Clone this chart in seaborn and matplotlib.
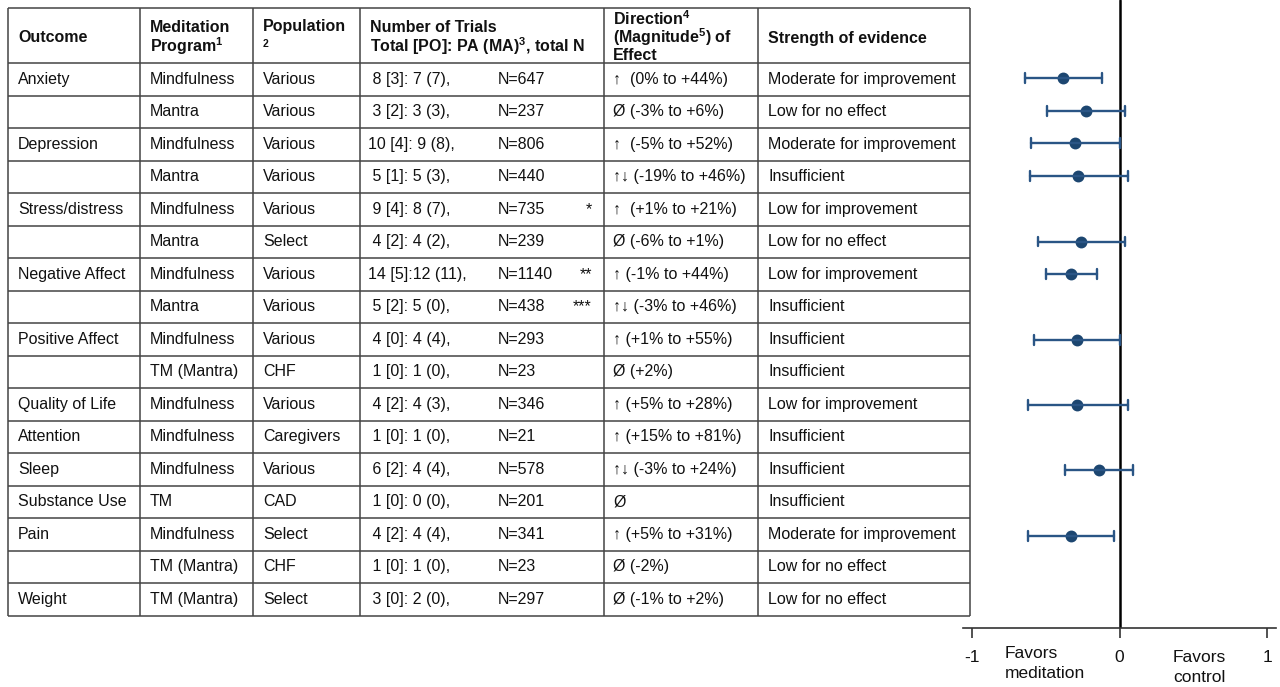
import numpy as np
import pandas as pd
import matplotlib
matplotlib.use("Agg")
import matplotlib.pyplot as plt
import seaborn as sns

# ---- table content -------------------------------------------------------
outcomes = ["Anxiety", "", "Depression", "", "Stress/distress", "",
            "Negative Affect", "", "Positive Affect", "", "Quality of Life",
            "Attention", "Sleep", "Substance Use", "Pain", "", "Weight"]
programs = ["Mindfulness", "Mantra", "Mindfulness", "Mantra", "Mindfulness",
            "Mantra", "Mindfulness", "Mantra", "Mindfulness", "TM (Mantra)",
            "Mindfulness", "Mindfulness", "Mindfulness", "TM", "Mindfulness",
            "TM (Mantra)", "TM (Mantra)"]
populations = ["Various", "Various", "Various", "Various", "Various", "Select",
               "Various", "Various", "Various", "CHF", "Various", "Caregivers",
               "Various", "CAD", "Select", "CHF", "Select"]
trials = [" 8 [3]: 7 (7),", " 3 [2]: 3 (3),", "10 [4]: 9 (8),", " 5 [1]: 5 (3),",
          " 9 [4]: 8 (7),", " 4 [2]: 4 (2),", "14 [5]:12 (11),", " 5 [2]: 5 (0),",
          " 4 [0]: 4 (4),", " 1 [0]: 1 (0),", " 4 [2]: 4 (3),", " 1 [0]: 1 (0),",
          " 6 [2]: 4 (4),", " 1 [0]: 0 (0),", " 4 [2]: 4 (4),", " 1 [0]: 1 (0),",
          " 3 [0]: 2 (0),"]
total_n = [647, 237, 806, 440, 735, 239, 1140, 438, 293, 23, 346, 21, 578,
           201, 341, 23, 297]
notes = ["", "", "", "", "*", "", "**", "***", "", "", "", "", "", "", "",
         "", ""]
directions = ["\u2191  (0% to +44%)", "\u00d8 (-3% to +6%)",
              "\u2191  (-5% to +52%)", "\u2191\u2193 (-19% to +46%)",
              "\u2191  (+1% to +21%)", "\u00d8 (-6% to +1%)",
              "\u2191 (-1% to +44%)", "\u2191\u2193 (-3% to +46%)",
              "\u2191 (+1% to +55%)", "\u00d8 (+2%)",
              "\u2191 (+5% to +28%)", "\u2191 (+15% to +81%)",
              "\u2191\u2193 (-3% to +24%)", "\u00d8",
              "\u2191 (+5% to +31%)", "\u00d8 (-2%)", "\u00d8 (-1% to +2%)"]
evidence = ["Moderate for improvement", "Low for no effect",
            "Moderate for improvement", "Insufficient", "Low for improvement",
            "Low for no effect", "Low for improvement", "Insufficient",
            "Insufficient", "Insufficient", "Low for improvement",
            "Insufficient", "Insufficient", "Insufficient",
            "Moderate for improvement", "Low for no effect", "Low for no effect"]

# ---- pooled effect sizes (standardised mean difference) -------------------
nan = np.nan
effect_est = [-0.38, -0.23, -0.30, -0.28, nan, -0.26, -0.33, nan, -0.29, nan,
              -0.29, nan, -0.14, nan, -0.33, nan, nan]
effect_low = [-0.64, -0.49, -0.60, -0.61, nan, -0.55, -0.50, nan, -0.58, nan,
              -0.62, nan, -0.37, nan, -0.62, nan, nan]
effect_high = [-0.12, 0.04, 0.00, 0.06, nan, 0.04, -0.15, nan, 0.00, nan,
               0.06, nan, 0.09, nan, -0.04, nan, nan]
x_ticks = [-1, 0, 1]

# ---- style ----------------------------------------------------------------
sns.set_style("white")
plt.rcParams["font.family"] = ["Liberation Sans", "DejaVu Sans"]
plt.rcParams["mathtext.fontset"] = "custom"
plt.rcParams["mathtext.rm"] = "Liberation Sans"
plt.rcParams["mathtext.bf"] = "Liberation Sans:bold"

W, H = 1280, 687
fig = plt.figure(figsize=(W / 100, H / 100), dpi=100)
fig.patch.set_facecolor("white")

# ---- table (drawn in pixel coordinates) -----------------------------------
tab = fig.add_axes([0, 0, 1, 1])
tab.set_xlim(0, W)
tab.set_ylim(H, 0)
tab.axis("off")

n_rows = len(outcomes)
table_top, header_bottom, row_h = 8, 63.0, 32.5
col_edges = [8, 140, 253, 360, 604, 758, 970]
grid_col = "#444444"
text_col = "#111111"
fs = 11.5

row_lines = [table_top] + [header_bottom + row_h * i for i in range(n_rows + 1)]
tab.hlines(row_lines, col_edges[0], col_edges[-1], color=grid_col, lw=1.1)
tab.vlines(col_edges, table_top, row_lines[-1], color=grid_col, lw=1.1)

hdr = dict(fontsize=fs, fontweight="bold", va="center", ha="left", color=text_col)
tab.text(18, 38, "Outcome", **hdr)
tab.text(150, 28, "Meditation", **hdr)
tab.text(150, 46, r"Program$^{\mathbf{1}}$", **hdr)
tab.text(263, 27, "Population", **hdr)
tab.text(263, 44, "2", fontsize=7.5, fontweight="bold", va="center", ha="left",
         color=text_col)
tab.text(370, 27, "Number of Trials", **hdr)
tab.text(370, 46, r"Total [PO]: PA (MA)$^{\mathbf{3}}$, total N", **hdr)
tab.text(613, 19, r"Direction$^{\mathbf{4}}$", **hdr)
tab.text(613, 37, r"(Magnitude$^{\mathbf{5}}$) of", **hdr)
tab.text(613, 55, "Effect", **hdr)
tab.text(768, 38, "Strength of evidence", **hdr)

body = dict(fontsize=fs, va="center", ha="left", color=text_col)
for i in range(n_rows):
    yc = header_bottom + row_h * (i + 0.5)
    tab.text(18, yc, outcomes[i], **body)
    tab.text(150, yc, programs[i], **body)
    tab.text(263, yc, populations[i], **body)
    tab.text(368, yc, trials[i], **body)
    tab.text(498, yc, f"N={total_n[i]}", **body)
    if notes[i]:
        tab.text(592, yc, notes[i], fontsize=fs, va="center", ha="right",
                 color=text_col)
    tab.text(613, yc, directions[i], **body)
    tab.text(768, yc, evidence[i], **body)

# ---- forest plot ----------------------------------------------------------
row_ids = [f"row{i}" for i in range(n_rows)]
records = []
for rid, lo, est, hi in zip(row_ids, effect_low, effect_est, effect_high):
    if np.isnan(est):
        continue
    for v in (lo, est, hi):
        records.append({"row": rid, "effect": v})
forest = pd.DataFrame(records)

ax_left, ax_right, ax_bottom = 963, 1276, 628
fax = fig.add_axes([ax_left / W, (H - ax_bottom) / H,
                    (ax_right - ax_left) / W, ax_bottom / H])
fax.patch.set_alpha(0)

fax.axvline(0, color="black", lw=1.8, zorder=0)
sns.pointplot(data=forest, x="effect", y="row", order=row_ids, orient="y",
              estimator="median", errorbar=("pi", 100), capsize=0.3,
              color="#1c4670", linestyle="none", marker="o", markersize=6.5,
              err_kws={"color": "#2a5585", "linewidth": 1.7}, ax=fax)

# x scale: -1 at px 972, +1 at px 1267
px_per_unit = (1267 - 972) / 2
zero_px = 1119.5
fax.set_xlim((ax_left - zero_px) / px_per_unit, (ax_right - zero_px) / px_per_unit)
# y scale: first row centre at px 78, 32.7 px per row
row0_px, row_px = 78, 32.7
fax.set_ylim((ax_bottom - row0_px) / row_px, -row0_px / row_px)

fax.set_xticks(x_ticks)
fax.set_xticklabels([str(t) for t in x_ticks])
fax.set_yticks([])
fax.set_xlabel("")
fax.set_ylabel("")
for side in ("top", "right", "left"):
    fax.spines[side].set_visible(False)
fax.spines["bottom"].set_color("#333333")
fax.spines["bottom"].set_linewidth(1.2)
fax.tick_params(axis="x", direction="out", length=7, width=1.2,
                color="#333333", labelsize=12.5, labelcolor=text_col,
                pad=9, bottom=True)

side_txt = dict(fontsize=12.5, ha="left", va="center", color=text_col)
fig.text(1005 / W, 1 - 653 / H, "Favors", **side_txt)
fig.text(1005 / W, 1 - 673 / H, "meditation", **side_txt)
fig.text(1173 / W, 1 - 657 / H, "Favors", **side_txt)
fig.text(1173 / W, 1 - 678 / H, "control", **side_txt)

fig.savefig("out.png", dpi=100, facecolor="white")
